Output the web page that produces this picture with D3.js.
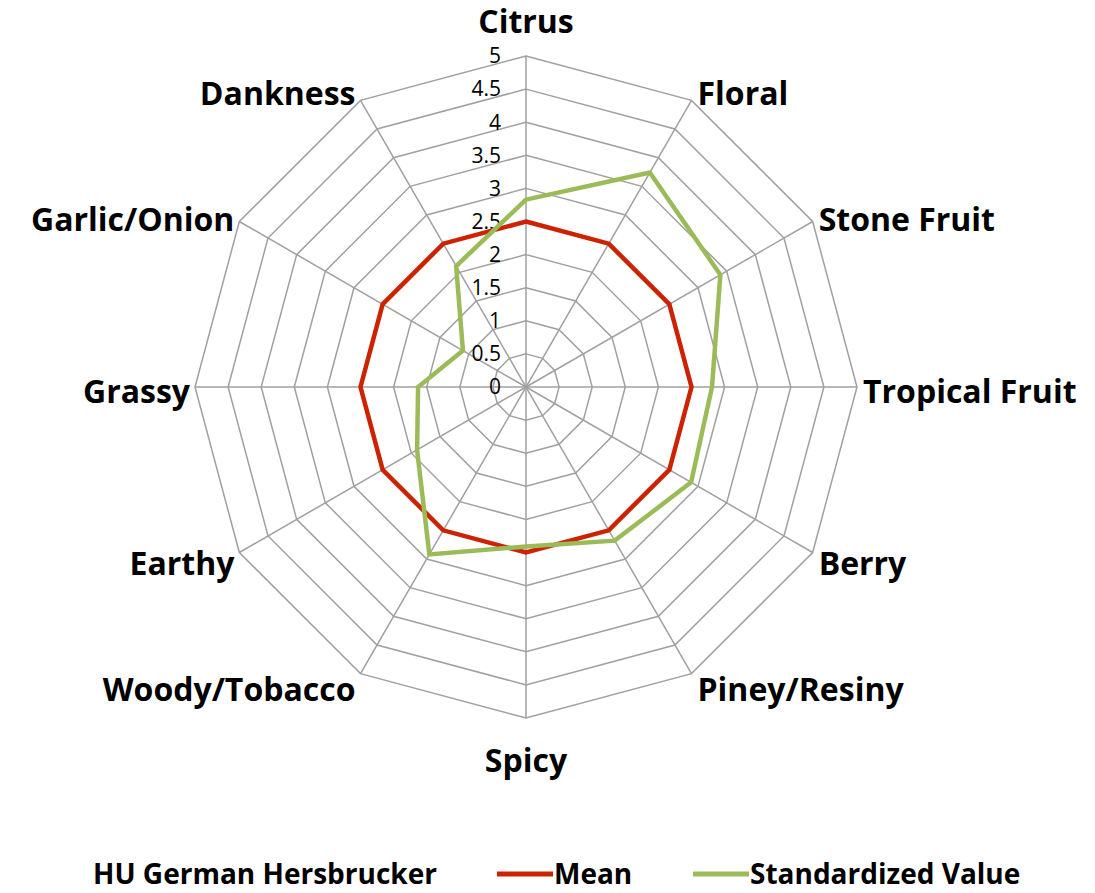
<!DOCTYPE html>
<html>
<head>
<meta charset="utf-8">
<script src="https://cdn.jsdelivr.net/npm/d3@7"></script>
<style>
  body { margin: 0; background: #fff; }
  svg { display: block; }
</style>
</head>
<body>
<div id="chart"></div>
<script>
const categories = ["Citrus", "Floral", "Stone Fruit", "Tropical Fruit", "Berry", "Piney/Resiny",
    "Spicy", "Woody/Tobacco", "Earthy", "Grassy", "Garlic/Onion", "Dankness"];
const meanValues = [2.5, 2.5, 2.5, 2.5, 2.5, 2.5, 2.5, 2.5, 2.5, 2.5, 2.5, 2.5];
const standardizedValues = [2.83, 3.74, 3.39, 2.81, 2.88, 2.68, 2.41, 2.92, 1.90, 1.63, 1.10, 2.11];
const tickValues = [0, 0.5, 1, 1.5, 2, 2.5, 3, 3.5, 4, 4.5, 5];
const seriesNames = ["Mean", "Standardized Value"];
const chartTitle = "HU German Hersbrucker";

const width = 1095, height = 893,
    cx = 526, cy = 387, radius = 331;

const colors = {"Mean": "#cc2200", "Standardized Value": "#9bbb59"};
const labelFont = "'Open Sans', 'DejaVu Sans', sans-serif";

const svg = d3.select("#chart")
    .append("svg")
    .attr("width", width)
    .attr("height", height);

const g = svg.append("g")
    .attr("transform", "translate(" + cx + "," + cy + ")");

const r = d3.scaleLinear().domain([0, 5]).range([0, radius]);
const angle = d3.scalePoint()
    .domain(categories)
    .range([0, 2 * Math.PI * (categories.length - 1) / categories.length]);

function pt(cat, v) {
    const a = angle(cat);
    return [r(v) * Math.sin(a), -r(v) * Math.cos(a)];
}

// grid rings
g.append("g")
    .selectAll("path")
    .data(tickValues.filter(t => t > 0))
    .enter().append("path")
    .attr("d", t => d3.line()(categories.map(c => pt(c, t))) + "Z")
    .attr("fill", "none")
    .attr("stroke", "#a0a0a0")
    .attr("stroke-width", 1.5);

// spokes
g.append("g")
    .selectAll("line")
    .data(categories)
    .enter().append("line")
    .attr("x1", 0).attr("y1", 0)
    .attr("x2", c => pt(c, 5)[0])
    .attr("y2", c => pt(c, 5)[1])
    .attr("stroke", "#a0a0a0")
    .attr("stroke-width", 1.5);

// tick labels on the first axis
g.append("g")
    .selectAll("text")
    .data(tickValues)
    .enter().append("text")
    .attr("x", -25)
    .attr("y", t => -r(t))
    .attr("dy", "0.35em")
    .attr("text-anchor", "end")
    .attr("font-family", labelFont)
    .attr("font-size", 21)
    .attr("fill", "#000")
    .text(t => t);

// series
const series = [
    {name: "Mean", values: meanValues},
    {name: "Standardized Value", values: standardizedValues}
];

g.append("g")
    .selectAll("path")
    .data(series)
    .enter().append("path")
    .attr("d", s => d3.line()(categories.map((c, i) => pt(c, s.values[i]))) + "Z")
    .attr("fill", "none")
    .attr("stroke", s => colors[s.name])
    .attr("stroke-width", 4.5)
    .attr("stroke-linejoin", "miter");

// category labels
g.append("g")
    .selectAll("text")
    .data(categories)
    .enter().append("text")
    .attr("x", c => {
        const a = angle(c), s = Math.sin(a);
        const x = pt(c, 5)[0];
        if (Math.abs(s) < 0.1) return x;
        return x + (s > 0 ? 6 : -5);
    })
    .attr("y", c => {
        const a = angle(c), co = Math.cos(a);
        const y = pt(c, 5)[1];
        if (Math.abs(Math.sin(a)) < 0.1) return y + (co > 0 ? -34 : 43);
        return y + 5 - 13 * co;
    })
    .attr("dy", "0.35em")
    .attr("text-anchor", c => {
        const s = Math.sin(angle(c));
        if (Math.abs(s) < 0.1) return "middle";
        return s > 0 ? "start" : "end";
    })
    .attr("font-family", labelFont)
    .attr("font-weight", "bold")
    .attr("font-size", 32)
    .attr("fill", "#000")
    .text(c => c);

// legend
const legendY = 874;
const legend = svg.append("g")
    .attr("font-family", labelFont)
    .attr("font-weight", "bold")
    .attr("font-size", 28)
    .attr("fill", "#000");

legend.append("text")
    .attr("x", 93)
    .attr("y", legendY + 10)
    .text(chartTitle);

const legendX = {"Mean": 497, "Standardized Value": 693};
seriesNames.forEach(name => {
    const x0 = legendX[name];
    legend.append("line")
        .attr("x1", x0).attr("x2", x0 + 56)
        .attr("y1", legendY).attr("y2", legendY)
        .attr("stroke", colors[name])
        .attr("stroke-width", 5);
    legend.append("text")
        .attr("x", x0 + 57)
        .attr("y", legendY + 10)
        .text(name);
});
</script>
</body>
</html>
